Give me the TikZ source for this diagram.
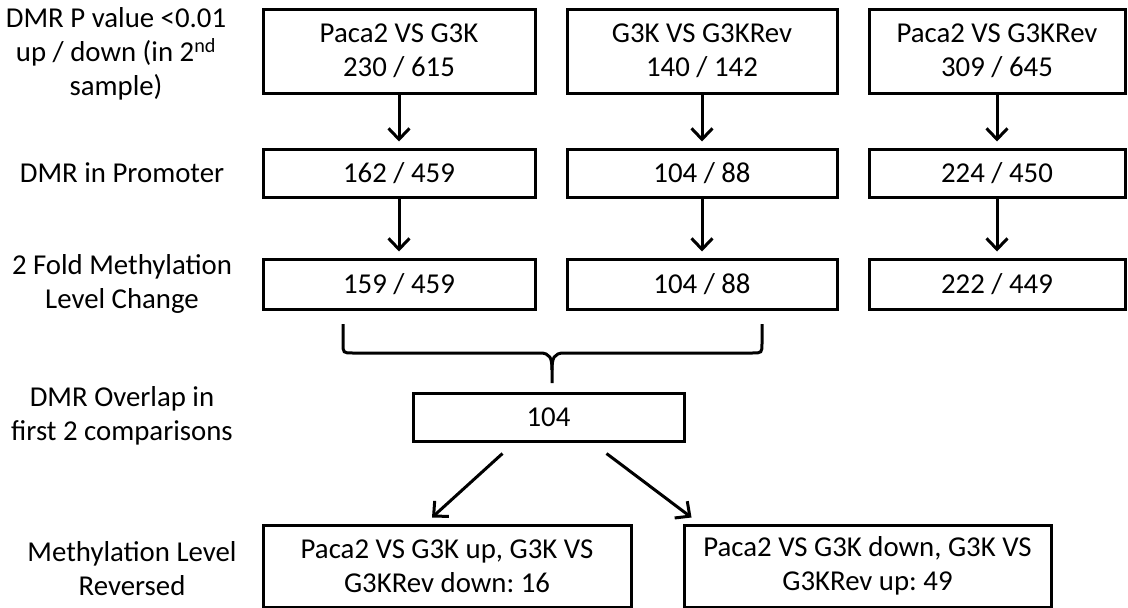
\documentclass[tikz,border=0pt]{standalone}
\usepackage{fontspec}
\setmainfont{Carlito}
\usetikzlibrary{arrows.meta}
\tikzset{>={Straight Barb[length=11pt,width=21pt]}}
\frenchspacing

\begin{document}
\begin{tikzpicture}[x=1pt,y=-1pt,
    every node/.style={font=\fontsize{28.8}{34}\selectfont,align=center},
    box/.style={draw,line width=3pt,inner sep=0pt},
    arr/.style={->,line width=3pt,shorten >=6pt}]
  \useasboundingbox (0,0) rectangle (1128,608);
  % step labels on the left
  \node (lab1) at (116,54) {DMR P value <0.01\\up / down (in 2\textsuperscript{nd}\\sample)};
  \node (lab2) at (122,173) {DMR in Promoter};
  \node (lab3) at (122,284) {2 Fold Methylation\\Level Change};
  \node (lab4) at (122,416) {DMR Overlap in\\first 2 comparisons};
  \node (lab5) at (132,569) {Methylation Level\\Reversed};
  % comparisons
  \node[box,minimum width=272pt,minimum height=84pt] (a1) at (399,51) {Paca2 VS G3K\\230 / 615};
  \node[box,minimum width=270pt,minimum height=84pt] (a2) at (702,51) {G3K VS G3KRev\\140 / 142};
  \node[box,minimum width=256pt,minimum height=84pt] (a3) at (997,51) {Paca2 VS G3KRev\\309 / 645};
  \node[box,minimum width=272pt,minimum height=48pt] (b1) at (399,173) {162 / 459};
  \node[box,minimum width=270pt,minimum height=48pt] (b2) at (702,173) {104 / 88};
  \node[box,minimum width=256pt,minimum height=48pt] (b3) at (997,173) {224 / 450};
  \node[box,minimum width=272pt,minimum height=50pt] (c1) at (399,284) {159 / 459};
  \node[box,minimum width=270pt,minimum height=50pt] (c2) at (702,284) {104 / 88};
  \node[box,minimum width=256pt,minimum height=50pt] (c3) at (997,284) {222 / 449};
  \foreach \i in {1,2,3} {
    \draw[arr] (a\i.south) -- (b\i.north);
    \draw[arr] (b\i.south) -- (c\i.north);
  }
  % overlap of the first two
  \draw[line width=3pt] (343,324) -- (343,343) .. controls (343,353) .. (353,353) -- (540,353)
    .. controls (550,353) and (552,358) .. (552,370) -- (552,383);
  \draw[line width=3pt] (762,324) -- (762,343) .. controls (762,353) .. (752,353) -- (564,353)
    .. controls (554,353) and (552,358) .. (552,370);
  \node[box,minimum width=271pt,minimum height=48pt] (ov) at (548.5,417) {104};
  \node[box,minimum width=368pt,minimum height=82pt] (r1) at (447,566) {Paca2 VS G3K up, G3K VS\\G3KRev down: 16};
  \node[box,minimum width=367pt,minimum height=82pt] (r2) at (867.5,566) {Paca2 VS G3K down, G3K VS\\G3KRev up: 49};
  \draw[arr,shorten >=0pt] ([xshift=-46pt,yshift=-11pt]ov.south) -- ([xshift=-15pt,yshift=6pt]r1.north);
  \draw[arr,shorten >=0pt] ([xshift=58pt,yshift=-11pt]ov.south) -- ([xshift=9pt,yshift=6pt]r2.north west);
\end{tikzpicture}
\end{document}
